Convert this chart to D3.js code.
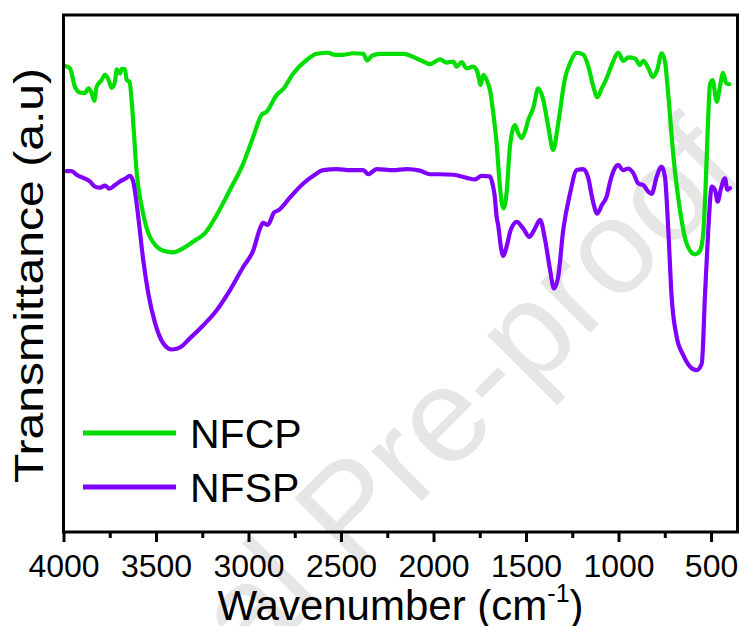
<!DOCTYPE html>
<html>
<head>
<meta charset="utf-8">
<script src="https://cdn.jsdelivr.net/npm/d3@7"></script>
<style>
  html, body { margin: 0; padding: 0; background: #fff; }
  svg { display: block; font-family: "Liberation Sans", Arial, Helvetica, sans-serif; }
</style>
</head>
<body>
<svg id="chart" width="740" height="626"></svg>
<script>
// FTIR spectra, wavenumber (cm^-1) vs transmittance (arbitrary units)
const nfcpWavenumber = [3986,3965,3938,3911,3884,3866,3848,3834,3821,3794,3776,3758,3740,3722,3712,3695,3685,3668,3658,3644,3631,3623,3604,3577,3550,3496,3461,3407,3352,3298,3235,3172,3100,3028,2974,2929,2902,2848,2812,2758,2686,2631,2569,2533,2488,2434,2380,2358,2334,2289,2163,2073,2019,1965,1929,1893,1875,1848,1821,1785,1763,1745,1731,1713,1695,1677,1659,1641,1623,1605,1587,1560,1542,1523,1506,1488,1461,1434,1407,1380,1353,1326,1289,1262,1226,1190,1163,1136,1115,1091,1064,1037,1001,974,947,911,884,866,839,814,791,767,749,731,704,668,632,587,560,543,530,516,506,492,469,452,435,418,401];
const nfcpTransmittance = [90.1,89.7,86.1,85.0,84.9,85.8,84.9,83.4,86.1,87.4,88.4,87.6,85.9,87.1,89.5,88.7,89.6,89.5,87.4,87.1,83.2,79.1,69.4,62.9,58.7,55.2,54.4,54.1,54.9,56.2,57.8,61.3,66.2,71.3,76.5,80.7,81.3,84.5,85.7,88.7,91.3,92.5,92.7,92.3,92.3,92.6,92.5,91.2,92.1,92.5,92.5,91.3,90.5,91.4,90.8,91.0,90.0,90.9,89.7,90.0,89.0,86.5,88.4,87.4,85.5,81.0,75.2,66.8,62.6,65.6,74.5,78.7,77.1,76.2,77.4,79.7,82.0,85.8,83.6,78.4,73.9,79.1,87.8,90.7,92.7,92.3,90.0,86.1,84.1,85.8,87.8,90.3,92.7,91.1,91.8,91.6,90.3,91.2,89.7,88.0,89.4,92.6,91.0,84.5,72.9,62.3,55.8,53.7,54.4,57.4,66.2,79.7,86.5,87.4,83.2,86.1,88.8,86.8,86.6];

const nfspWavenumber = [3986,3956,3929,3857,3830,3803,3776,3752,3722,3695,3668,3641,3624,3611,3596,3569,3542,3505,3461,3415,3370,3316,3244,3172,3100,3028,2974,2938,2922,2896,2862,2835,2776,2704,2650,2596,2523,2451,2380,2353,2307,2217,2145,2073,2019,1965,1893,1821,1776,1740,1695,1681,1670,1659,1650,1635,1623,1605,1583,1550,1515,1482,1452,1424,1397,1370,1349,1326,1299,1262,1226,1190,1163,1140,1115,1091,1064,1046,1025,1001,977,947,920,893,866,839,821,794,767,749,731,713,686,650,614,578,550,533,515,496,479,464,448,425,412,398];
const nfspTransmittance = [69.8,69.8,69.1,67.8,66.8,66.6,67.0,66.4,67.1,67.8,68.3,68.9,67.9,65.2,61.0,52.6,46.2,40.4,36.5,35.3,35.7,37.5,40.0,42.9,46.8,51.3,54.5,58.7,59.8,59.4,61.8,62.3,64.7,67.4,68.9,70.0,70.2,70.0,70.0,69.2,70.2,70.0,70.2,69.9,69.2,69.2,69.1,68.5,68.2,68.9,68.8,67.3,65.2,61.0,59.2,54.9,53.4,55.2,58.4,60.0,58.7,57.1,58.7,60.4,56.5,50.7,47.1,49.4,58.4,65.5,70.0,70.2,68.4,64.2,61.6,63.2,64.9,67.7,70.0,71.0,70.0,70.3,69.4,67.4,67.1,65.8,65.4,68.7,70.7,68.7,58.4,45.5,37.8,34.2,32.0,31.3,32.6,45.5,58.4,66.8,66.2,63.9,66.2,68.4,66.2,66.5];

const seriesNames = ["NFCP", "NFSP"];
const seriesColors = ["#00dd00", "#8000ff"];
const majorTicks = [4000, 3500, 3000, 2500, 2000, 1500, 1000, 500];
const minorTicks = [3750, 3250, 2750, 2250, 1750, 1250, 750];

const svg = d3.select("#chart");
const plot = { left: 63.5, right: 737.5, top: 15, bottom: 532 };

const x = d3.scaleLinear().domain([4000, 357]).range([plot.left, plot.right]);
const y = d3.scaleLinear().domain([0, 100]).range([plot.bottom, plot.top]);

// faint diagonal stamp behind the data
svg.append("text")
  .attr("transform", "translate(15,908) rotate(-45)")
  .attr("font-size", 134)
  .attr("fill", "#e6e6e6")
  .text("Journal Pre-proof");

const series = [
  { name: seriesNames[0], color: seriesColors[0], data: nfcpWavenumber.map((w, i) => [w, nfcpTransmittance[i]]) },
  { name: seriesNames[1], color: seriesColors[1], data: nfspWavenumber.map((w, i) => [w, nfspTransmittance[i]]) }
];

const line = d3.line()
  .x(d => x(d[0]))
  .y(d => y(d[1]))
  .curve(d3.curveMonotoneX);

svg.append("clipPath").attr("id", "plotClip")
  .append("rect")
  .attr("x", plot.left).attr("y", plot.top)
  .attr("width", plot.right - plot.left).attr("height", plot.bottom - plot.top);

svg.append("g").attr("clip-path", "url(#plotClip)")
  .selectAll("path")
  .data(series)
  .join("path")
  .attr("d", d => line(d.data))
  .attr("fill", "none")
  .attr("stroke", d => d.color)
  .attr("stroke-width", 4.2)
  .attr("stroke-linejoin", "round")
  .attr("stroke-linecap", "round");

// bottom axis: major ticks with labels, minor ticks without
const xAxisMajor = d3.axisBottom(x).tickValues(majorTicks).tickSize(10).tickSizeOuter(0).tickFormat(d3.format("d"));
const gMajor = svg.append("g").attr("transform", `translate(0,${plot.bottom})`).call(xAxisMajor);
gMajor.select(".domain").remove();
gMajor.selectAll(".tick line").attr("stroke", "#000").attr("stroke-width", 3);
gMajor.selectAll(".tick text")
  .attr("y", 45).attr("dy", null)
  .attr("font-size", 32)
  .attr("font-family", "'Liberation Sans', Arial, sans-serif")
  .attr("fill", "#000");

const xAxisMinor = d3.axisBottom(x).tickValues(minorTicks).tickSize(6).tickSizeOuter(0).tickFormat("");
const gMinor = svg.append("g").attr("transform", `translate(0,${plot.bottom})`).call(xAxisMinor);
gMinor.select(".domain").remove();
gMinor.selectAll(".tick line").attr("stroke", "#000").attr("stroke-width", 3);

// frame
svg.append("rect")
  .attr("x", plot.left).attr("y", plot.top)
  .attr("width", plot.right - plot.left).attr("height", plot.bottom - plot.top)
  .attr("fill", "none").attr("stroke", "#000").attr("stroke-width", 3);

// axis titles
const xTitle = svg.append("text")
  .attr("x", (plot.left + plot.right) / 2).attr("y", 620)
  .attr("text-anchor", "middle").attr("font-size", 42).attr("fill", "#000");
xTitle.append("tspan").text("Wavenumber (cm");
xTitle.append("tspan").attr("font-size", 25).attr("dy", -18).text("-1");
xTitle.append("tspan").attr("dy", 18).text(")");

svg.append("text")
  .attr("transform", `translate(43,${(68 + 483) / 2}) rotate(-90)`)
  .attr("text-anchor", "middle")
  .attr("font-size", 40)
  .attr("textLength", 415)
  .attr("lengthAdjust", "spacingAndGlyphs")
  .attr("fill", "#000")
  .text("Transmittance (a.u)");

// legend
const legend = svg.append("g");
const legendRows = [433, 487];
series.forEach((s, i) => {
  legend.append("line")
    .attr("x1", 83).attr("x2", 176)
    .attr("y1", legendRows[i]).attr("y2", legendRows[i])
    .attr("stroke", s.color).attr("stroke-width", 5);
  legend.append("text")
    .attr("x", 190).attr("y", legendRows[i] + 15)
    .attr("font-size", 41).attr("fill", "#000")
    .text(s.name);
});
</script>
</body>
</html>
